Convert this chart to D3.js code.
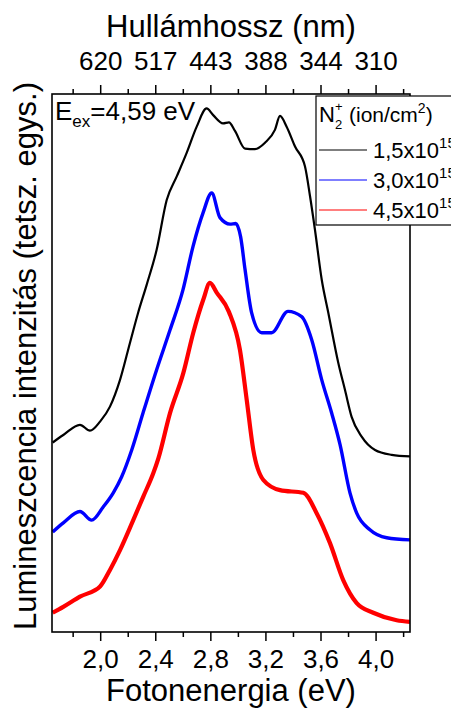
<!DOCTYPE html>
<html><head><meta charset="utf-8">
<script src="https://cdn.jsdelivr.net/npm/d3@7"></script>
<style>body{margin:0;background:#fff}svg{display:block;font-family:"Liberation Sans",Arial,sans-serif}</style>
</head><body><svg id="c" width="451" height="709"></svg>
<script>
// ---- data ----
const majorTicks = [2.0, 2.4, 2.8, 3.2, 3.6, 4.0];
const minorTicks = [1.8, 2.2, 2.6, 3.0, 3.4, 3.8, 4.2];
const topTickLabels = ["620", "517", "443", "388", "344", "310"];
const seriesNames = ["1,5x10", "3,0x10", "4,5x10"];
const seriesExponent = "15";
// [photon energy (eV), intensity (arb. units, vertically offset)]
const black = [[1.655,35.4],[1.732,36.8],[1.853,38.7],[1.926,37.6],[1.999,39.3],[2.071,42.1],[2.144,47.1],[2.216,54.0],[2.275,59.6],[2.338,64.9],[2.410,71.4],[2.483,80.7],[2.556,85.1],[2.628,89.5],[2.701,94.4],[2.773,97.8],[2.819,96.6],[2.892,95.0],[2.935,95.2],[2.979,93.6],[3.052,90.3],[3.124,90.2],[3.197,91.4],[3.269,93.8],[3.306,96.4],[3.354,94.4],[3.415,90.7],[3.487,87.0],[3.524,81.4],[3.560,75.1],[3.609,65.8],[3.657,59.6],[3.729,50.3],[3.778,45.2],[3.826,40.2],[3.899,36.5],[3.996,34.0],[4.117,33.1],[4.250,32.8]];
const blue = [[1.655,18.7],[1.732,20.4],[1.853,22.5],[1.938,20.9],[2.023,23.4],[2.095,26.0],[2.156,29.0],[2.229,34.0],[2.311,40.9],[2.410,49.0],[2.507,56.4],[2.601,63.9],[2.674,72.0],[2.747,78.3],[2.810,82.0],[2.870,77.4],[2.943,76.2],[2.985,76.3],[3.020,73.8],[3.052,67.7],[3.100,59.6],[3.173,55.9],[3.245,55.9],[3.364,59.9],[3.463,58.9],[3.536,54.6],[3.609,47.1],[3.681,40.9],[3.742,35.0],[3.814,26.0],[3.863,22.2],[3.959,19.1],[4.081,17.6],[4.250,17.2]];
const red = [[1.655,3.6],[1.732,4.7],[1.853,6.6],[1.999,8.5],[2.071,11.6],[2.144,15.3],[2.240,20.9],[2.313,25.3],[2.386,29.7],[2.422,32.4],[2.507,40.9],[2.604,48.4],[2.676,55.9],[2.749,62.1],[2.797,65.2],[2.846,63.4],[2.935,59.8],[3.015,52.7],[3.064,43.4],[3.112,34.0],[3.185,28.4],[3.306,26.5],[3.475,26.0],[3.572,22.2],[3.669,16.6],[3.765,9.7],[3.863,5.4],[3.983,3.6],[4.153,2.2],[4.250,1.9]];
const seriesData = [black, blue, red];
const seriesColors = ["#000000", "#0000ff", "#ff0000"];
const seriesWidths = [2.2, 3.4, 4.2];

// ---- layout ----
const L = 52, R = 410, T = 94, B = 632;
const svg = d3.select("#c");
const x = d3.scaleLinear().domain([1.65, 4.25]).range([L, R]);
const y = d3.scaleLinear().domain([0, 100.5]).range([B, T]);

svg.append("defs").append("clipPath").attr("id", "pc")
  .append("rect").attr("x", L).attr("y", T).attr("width", R - L).attr("height", B - T);

// curves
const line = d3.line().x(d => x(d[0])).y(d => y(d[1])).curve(d3.curveMonotoneX);
const g = svg.append("g").attr("clip-path", "url(#pc)");
seriesData.forEach((s, i) => {
  g.append("path").datum(s).attr("d", line).attr("fill", "none")
    .attr("stroke", seriesColors[i]).attr("stroke-width", seriesWidths[i])
    .attr("stroke-linejoin", "round");
});

// axes
const fmt = d => d.toFixed(1).replace(".", ",");
const bAx = svg.append("g").attr("transform", `translate(0,${B})`)
  .call(d3.axisBottom(x).tickValues(majorTicks).tickSize(9).tickFormat(fmt));
bAx.selectAll("text").attr("y", 36).attr("dy", 0).attr("font-size", 26).attr("fill", "#000").attr("font-family", null);
const bMin = svg.append("g").attr("transform", `translate(0,${B})`)
  .call(d3.axisBottom(x).tickValues(minorTicks).tickSize(5).tickFormat(""));
const tAx = svg.append("g").attr("transform", `translate(0,${T})`)
  .call(d3.axisTop(x).tickValues(majorTicks).tickSize(9).tickFormat((d, i) => topTickLabels[i]));
tAx.selectAll("text").attr("y", -24).attr("dy", 0).attr("font-size", 26).attr("fill", "#000").attr("font-family", null);
const tMin = svg.append("g").attr("transform", `translate(0,${T})`)
  .call(d3.axisTop(x).tickValues(minorTicks).tickSize(5).tickFormat(""));
[bAx, bMin, tAx, tMin].forEach(a => {
  a.select(".domain").remove();
  a.selectAll("line").attr("stroke", "#000").attr("stroke-width", 1.5);
  a.attr("font-family", null);
});

// frame
svg.append("rect").attr("x", L).attr("y", T).attr("width", R - L).attr("height", B - T)
  .attr("fill", "none").attr("stroke", "#000").attr("stroke-width", 1.6);

// axis titles
svg.append("text").attr("x", (L + R) / 2).attr("y", 37).attr("text-anchor", "middle")
  .attr("font-size", 31).text("Hullámhossz (nm)");
svg.append("text").attr("x", (L + R) / 2).attr("y", 701).attr("text-anchor", "middle")
  .attr("font-size", 31).text("Fotonenergia (eV)");
svg.append("text").attr("transform", "translate(36,356) rotate(-90)").attr("text-anchor", "middle")
  .attr("font-size", 31).text("Lumineszcencia intenzitás (tetsz. egys.)");

// E_ex annotation
const ee = svg.append("text").attr("x", 55).attr("y", 120).attr("font-size", 26);
ee.append("tspan").text("E");
ee.append("tspan").attr("font-size", 17).attr("dy", 7).text("ex");
ee.append("tspan").attr("dy", -7).text("=4,59 eV");

// legend
const lg = svg.append("g");
lg.append("rect").attr("x", 316).attr("y", 96).attr("width", 200).attr("height", 129)
  .attr("fill", "#fff").attr("stroke", "#000").attr("stroke-width", 1.2);
lg.append("text").attr("x", 319).attr("y", 122).attr("font-size", 22).text("N");
lg.append("text").attr("x", 335).attr("y", 129).attr("font-size", 13).text("2");
lg.append("text").attr("x", 335).attr("y", 111).attr("font-size", 13).text("+");
const lt = lg.append("text").attr("x", 349).attr("y", 122).attr("font-size", 21);
lt.append("tspan").text("(ion/cm");
lt.append("tspan").attr("font-size", 14).attr("dy", -9).text("2");
lt.append("tspan").attr("dy", 9).text(")");
seriesNames.forEach((nm, i) => {
  const yy = 150 + i * 30;
  lg.append("line").attr("x1", 319).attr("x2", 367).attr("y1", yy).attr("y2", yy)
    .attr("stroke", seriesColors[i]).attr("stroke-width", 1.2);
  const t = lg.append("text").attr("x", 373).attr("y", yy + 8).attr("font-size", 22);
  t.append("tspan").text(nm);
  t.append("tspan").attr("font-size", 15).attr("dy", -10).text(seriesExponent);
});
</script></body></html>
